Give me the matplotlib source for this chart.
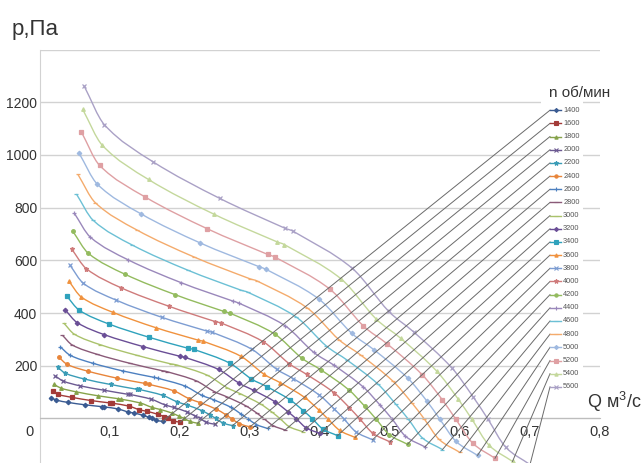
import numpy as np
import matplotlib.pyplot as plt
from matplotlib.path import Path
from matplotlib.patches import PathPatch, Rectangle

plt.rcParams["font.family"] = ["Liberation Sans", "DejaVu Sans"]
plt.rcParams["mathtext.fontset"] = "custom"
plt.rcParams["mathtext.rm"] = "Liberation Sans"

# ---- данные: характеристики p(Q) вентилятора для разных оборотов ----
rpm = [1400, 1600, 1800, 2000, 2200, 2400, 2600, 2800, 3000, 3200, 3400,
       3600, 3800, 4000, 4200, 4400, 4600, 4800, 5000, 5200, 5400, 5600]

q_1400 = [0.016, 0.023, 0.040, 0.064, 0.088, 0.091, 0.112, 0.125, 0.134, 0.147, 0.155, 0.160, 0.166, 0.175]
p_1400 = [79, 70, 61, 52, 45, 44, 36, 25, 21, 12, 5, 0, -7, -11]
q_1600 = [0.018, 0.026, 0.046, 0.073, 0.100, 0.103, 0.127, 0.142, 0.153, 0.168, 0.177, 0.183, 0.190, 0.200]
p_1600 = [103, 91, 80, 68, 59, 58, 47, 33, 27, 16, 7, 0, -9, -14]
q_1800 = [0.020, 0.030, 0.052, 0.083, 0.112, 0.116, 0.143, 0.160, 0.172, 0.189, 0.199, 0.206, 0.214, 0.225]
p_1800 = [130, 115, 101, 86, 75, 73, 59, 42, 34, 20, 8, 0, -11, -18]
q_2000 = [0.022, 0.033, 0.057, 0.092, 0.125, 0.129, 0.159, 0.178, 0.191, 0.210, 0.221, 0.229, 0.237, 0.250]
p_2000 = [161, 142, 124, 107, 92, 91, 73, 52, 42, 25, 10, 0, -14, -22]
q_2200 = [0.025, 0.036, 0.063, 0.101, 0.138, 0.142, 0.175, 0.196, 0.210, 0.231, 0.243, 0.251, 0.261, 0.275]
p_2200 = [195, 172, 150, 129, 111, 110, 88, 63, 51, 30, 13, 0, -17, -27]
q_2400 = [0.027, 0.039, 0.069, 0.110, 0.150, 0.155, 0.191, 0.213, 0.229, 0.252, 0.265, 0.274, 0.285, 0.300]
p_2400 = [232, 205, 179, 153, 133, 130, 105, 75, 60, 35, 15, -1, -20, -32]
q_2600 = [0.029, 0.043, 0.075, 0.119, 0.163, 0.168, 0.207, 0.231, 0.248, 0.273, 0.287, 0.297, 0.309, 0.325]
p_2600 = [272, 240, 210, 180, 156, 153, 123, 88, 71, 42, 17, -1, -23, -38]
q_2800 = [0.032, 0.046, 0.081, 0.129, 0.175, 0.181, 0.223, 0.249, 0.267, 0.294, 0.310, 0.320, 0.333, 0.350]
p_2800 = [316, 279, 244, 209, 181, 178, 143, 102, 82, 48, 20, -1, -27, -44]
q_3000 = [0.034, 0.049, 0.086, 0.138, 0.187, 0.194, 0.239, 0.267, 0.286, 0.315, 0.332, 0.343, 0.356, 0.375]
p_3000 = [362, 320, 280, 240, 207, 204, 164, 117, 94, 55, 23, -1, -31, -50]
q_3200 = [0.036, 0.053, 0.092, 0.147, 0.200, 0.207, 0.255, 0.285, 0.305, 0.336, 0.354, 0.366, 0.380, 0.400]
p_3200 = [412, 364, 318, 273, 236, 232, 186, 133, 107, 63, 26, -1, -35, -57]
q_3400 = [0.038, 0.056, 0.098, 0.156, 0.212, 0.220, 0.271, 0.302, 0.324, 0.357, 0.376, 0.389, 0.404, 0.425]
p_3400 = [465, 411, 359, 308, 266, 262, 210, 150, 121, 71, 30, -1, -40, -65]
q_3600 = [0.041, 0.059, 0.104, 0.165, 0.225, 0.233, 0.287, 0.320, 0.343, 0.378, 0.398, 0.411, 0.428, 0.450]
p_3600 = [522, 461, 403, 345, 298, 293, 236, 168, 136, 80, 33, -1, -45, -72]
q_3800 = [0.043, 0.062, 0.109, 0.174, 0.238, 0.246, 0.303, 0.338, 0.362, 0.399, 0.420, 0.434, 0.451, 0.475]
p_3800 = [581, 513, 449, 384, 332, 327, 262, 187, 151, 89, 37, -1, -50, -81]
q_4000 = [0.045, 0.066, 0.115, 0.184, 0.250, 0.259, 0.319, 0.356, 0.381, 0.420, 0.442, 0.457, 0.475, 0.500]
p_4000 = [644, 569, 497, 426, 368, 362, 291, 208, 167, 98, 41, -2, -55, -89]
q_4200 = [0.047, 0.069, 0.121, 0.193, 0.263, 0.272, 0.335, 0.374, 0.401, 0.441, 0.464, 0.480, 0.499, 0.525]
p_4200 = [710, 627, 548, 470, 406, 399, 321, 229, 185, 109, 46, -2, -61, -98]
q_4400 = [0.049, 0.072, 0.126, 0.202, 0.275, 0.284, 0.350, 0.391, 0.420, 0.462, 0.486, 0.503, 0.522, 0.550]
p_4400 = [779, 688, 602, 515, 446, 438, 352, 251, 202, 119, 50, -2, -67, -108]
q_4600 = [0.052, 0.076, 0.132, 0.211, 0.287, 0.297, 0.366, 0.409, 0.439, 0.483, 0.508, 0.526, 0.546, 0.575]
p_4600 = [852, 752, 658, 563, 487, 479, 385, 275, 221, 130, 55, -2, -73, -118]
q_4800 = [0.054, 0.079, 0.138, 0.220, 0.300, 0.310, 0.382, 0.427, 0.458, 0.504, 0.531, 0.549, 0.570, 0.600]
p_4800 = [927, 819, 716, 613, 530, 522, 419, 299, 241, 142, 60, -2, -79, -129]
q_5000 = [0.056, 0.082, 0.144, 0.229, 0.313, 0.323, 0.398, 0.445, 0.477, 0.525, 0.553, 0.571, 0.594, 0.625]
p_5000 = [1006, 889, 777, 666, 576, 566, 454, 324, 261, 154, 65, -2, -86, -140]
q_5200 = [0.059, 0.085, 0.150, 0.239, 0.325, 0.336, 0.414, 0.462, 0.496, 0.546, 0.575, 0.594, 0.618, 0.650]
p_5200 = [1088, 961, 841, 720, 623, 612, 491, 351, 283, 166, 70, -3, -93, -151]
q_5400 = [0.061, 0.089, 0.155, 0.248, 0.338, 0.349, 0.430, 0.480, 0.515, 0.567, 0.597, 0.617, 0.641, 0.675]
p_5400 = [1173, 1037, 907, 776, 671, 660, 530, 378, 305, 179, 75, -3, -100, -163]
q_5600 = [0.063, 0.092, 0.161, 0.257, 0.350, 0.362, 0.446, 0.498, 0.534, 0.588, 0.619, 0.640, 0.665, 0.700]
p_5600 = [1262, 1115, 975, 835, 722, 710, 570, 407, 328, 193, 81, -3, -108, -175]

q_all = [q_1400, q_1600, q_1800, q_2000, q_2200, q_2400, q_2600, q_2800, q_3000, q_3200, q_3400,
         q_3600, q_3800, q_4000, q_4200, q_4400, q_4600, q_4800, q_5000, q_5200, q_5400, q_5600]
p_all = [p_1400, p_1600, p_1800, p_2000, p_2200, p_2400, p_2600, p_2800, p_3000, p_3200, p_3400,
         p_3600, p_3800, p_4000, p_4200, p_4400, p_4600, p_4800, p_5000, p_5200, p_5400, p_5600]

x_ticks = [0.1, 0.2, 0.3, 0.4, 0.5, 0.6, 0.7, 0.8]
x_labels = ["0,1", "0,2", "0,3", "0,4", "0,5", "0,6", "0,7", "0,8"]

# ---- стиль серий (как в Excel) ----
colors = ["#3a5b92", "#a33b38", "#86a34a", "#6c5a92", "#3a9cb6", "#e8853a",
          "#4d80c0", "#8a5a78", "#aac26c", "#6a4e96", "#2fa2bc", "#f0923e",
          "#7d9dd2", "#cf7b7b", "#93bb5e", "#9a88bb", "#6cc0d5", "#f4ab6c",
          "#9fb9e0", "#dfa0a3", "#c4d89c", "#aaa1c6"]
markers = ["D", "s", "^", "x", "*", "o", "+", "_", "_"]
msizes = {"D": 2.3, "s": 2.6, "^": 2.6, "x": 2.6, "*": 3.6, "o": 2.6, "+": 3.2, "_": 3.2}

PX_PER_Q = 7000.0   # 0,1 м³/с ~ 70 px
PX_PER_PA = 0.2635  # 200 Па ~ 52.7 px


def smooth_path(xs, ys):
    """Сглаженная линия через точки (кубические кривые Безье, как 'сглаженная линия' в Excel)."""
    pts = np.column_stack([np.asarray(xs) * PX_PER_Q, np.asarray(ys) * PX_PER_PA])
    n = len(pts)
    verts = [pts[0]]
    codes = [Path.MOVETO]
    for i in range(n - 1):
        a, b = pts[i], pts[i + 1]
        seg = np.linalg.norm(b - a)
        prev = pts[i - 1] if i > 0 else a
        nxt = pts[i + 2] if i + 2 < n else b
        t0 = (b - prev) / np.linalg.norm(b - prev)
        t1 = (nxt - a) / np.linalg.norm(nxt - a)
        verts += [a + t0 * seg / 3, b - t1 * seg / 3, b]
        codes += [Path.CURVE4] * 3
    verts = np.array(verts) / [PX_PER_Q, PX_PER_PA]
    return Path(verts, codes)


fig = plt.figure(figsize=(6.43, 4.63), dpi=100)
ax = fig.add_axes([40 / 643, 0, 560 / 643, (463 - 49.6) / 463])
ax.set_xlim(0, 0.8)
ax.set_ylim(-169, 1400)

grid_c = "#d2d2d2"
for s in ("top", "right"):
    ax.spines[s].set_visible(False)
ax.spines["left"].set_color(grid_c)
ax.spines["bottom"].set_position(("data", 0))
ax.spines["bottom"].set_color("#bdbdbd")

ax.set_yticks(np.arange(0, 1401, 200))
ax.set_yticklabels([""] + [str(v) for v in range(200, 1201, 200)] + [""])
ax.set_xticks(x_ticks)
ax.set_xticklabels(x_labels)
ax.tick_params(axis="y", length=0, pad=2, labelsize=10, labelcolor="#333333")
ax.tick_params(axis="x", length=0, pad=4.5, labelsize=10.5, labelcolor="#333333")
ax.yaxis.grid(True, color=grid_c, lw=1.0)
ax.set_axisbelow(True)
ax.annotate("0", xy=(0, 0), xytext=(-10, -14), textcoords="offset pixels",
            ha="center", va="center", fontsize=10.5, color="#333333")

# белая подложка легенды прерывает сетку
ax.add_patch(Rectangle((0.716, 89), 0.06, 1196, facecolor="white", edgecolor="none", zorder=1.5))

leg_x0, leg_x1 = 0.7286, 0.7443
for i, (n, q, p) in enumerate(zip(rpm, q_all, p_all)):
    c = colors[i]
    m = markers[i % len(markers)]
    ax.add_patch(PathPatch(smooth_path(q, p), facecolor="none", edgecolor=c, lw=1.0, zorder=2))
    ax.plot(q, p, ls="none", marker=m, ms=msizes[m], color=c, mec=c, mew=0.9, zorder=3)

    # легенда + выноска от конца кривой
    p_leg = 1170 - 50 * i
    ax.plot([q[-1], leg_x0], [p[-1], p_leg], color="#6a6a6a", lw=0.7, zorder=4)
    ax.plot([leg_x0, leg_x1], [p_leg, p_leg], color=c, lw=1.0, zorder=5)
    ax.plot([(leg_x0 + leg_x1) / 2], [p_leg], marker=m, ms=msizes[m] * 0.9, color=c, mec=c,
            mew=0.8, zorder=5)
    ax.text(leg_x1 + 0.003, p_leg, str(n), fontsize=5.3, color="#555555", va="center", ha="left", zorder=5)

ax.text(0.727, 1235, "n об/мин", fontsize=11, color="#333333", va="center", ha="left")
ax.text(0.821, 63, "Q м$^3$/с", fontsize=13, color="#333333", va="center", ha="center", clip_on=False)
fig.text(12 / 643, 1 - 30 / 463, "p,Па", fontsize=16, color="#333333", va="center", ha="left")

fig.savefig("out.png", dpi=100)
